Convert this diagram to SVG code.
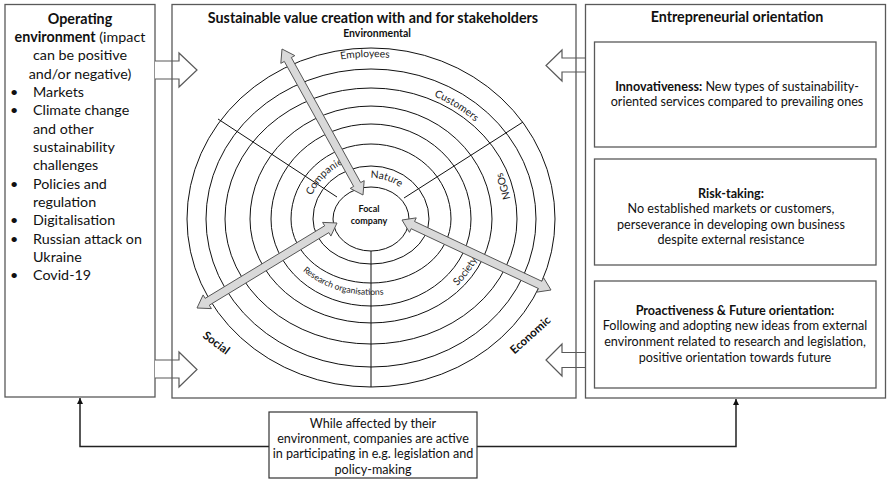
<svg xmlns="http://www.w3.org/2000/svg" width="890" height="490" viewBox="0 0 890 490">
<style>
text{font-family:Lato,"Liberation Sans",sans-serif;fill:#111}
.box{fill:#fff;stroke:#595959;stroke-width:1.3}
.frame{fill:none;stroke:#595959;stroke-width:1.3}
.blk{fill:#fff;stroke:#595959;stroke-width:1.2}
.ring{fill:none;stroke:#111;stroke-width:1}
.spoke{stroke:#111;stroke-width:1}
.garrow{fill:#d9d9d9;stroke:#555;stroke-width:1}
.conn{fill:none;stroke:#222;stroke-width:1.5}
.t13{font-size:12.6px}
.t14{font-size:14.3px}
.b{font-weight:bold}
.lbl{font-size:10.3px;fill:#222}
.mid{text-anchor:middle}
</style>
<defs>
<marker id="ah" markerUnits="userSpaceOnUse" markerWidth="7" markerHeight="7" refX="6" refY="3" orient="auto"><path d="M0,0 L6,3 L0,6 z" fill="#111"/></marker>
<path id="pEmp" d="M278.8,81.6 A174,162 0 0 1 452.7,76.0"/>
<path id="pCus" d="M384.1,84.5 A150,135 0 0 1 507.0,161.9"/>
<path id="pNgo" d="M507.2,251.9 A143,127 0 0 0 470.1,129.2"/>
<path id="pSoc" d="M425.5,307.3 A116,100 0 0 0 486.9,222.5"/>
<path id="pRes" d="M283.6,245.0 A93,76 0 0 0 414.7,286.1"/>
<path id="pCom" d="M307.2,224.3 A64,61 0 0 1 376.6,158.2"/>
<path id="pNat" d="M351.6,181.8 A46,41 0 0 1 412.7,201.7"/>
</defs>

<g id="operating-environment">
<rect class="box" x="5" y="4.5" width="150" height="392.5"/>
<text class="t14 mid" x="80" y="23.5"><tspan class="b">Operating</tspan></text>
<text class="t14 mid" x="80" y="42"><tspan class="b">environment</tspan> (impact</text>
<text class="t14 mid" x="80" y="60">can be positive</text>
<text class="t14 mid" x="80" y="78.5">and/or negative)</text>
<g class="t14">
<text x="10" y="97">•</text><text x="33" y="97">Markets</text>
<text x="10" y="115">•</text><text x="33" y="115">Climate change</text>
<text x="33" y="133.5">and other</text>
<text x="33" y="152">sustainability</text>
<text x="33" y="170">challenges</text>
<text x="10" y="188.5">•</text><text x="33" y="188.5">Policies and</text>
<text x="33" y="207">regulation</text>
<text x="10" y="225">•</text><text x="33" y="225">Digitalisation</text>
<text x="10" y="243.5">•</text><text x="33" y="243.5">Russian attack on</text>
<text x="33" y="262">Ukraine</text>
<text x="10" y="280">•</text><text x="33" y="280">Covid-19</text>
</g>
</g>

<g id="block-arrows">
<path class="blk" d="M155,61 H179 V53 L197,70 L179,87 V79 H155"/>
<path class="blk" d="M155,360 H179 V352 L197,369.5 L179,387 V378 H155"/>
<path class="blk" d="M585.5,58 H562 V50 L546,65.5 L562,81 V72 H585.5"/>
<path class="blk" d="M585.5,352.5 H562 V344 L546,360 L562,376 V367.5 H585.5"/>
</g>

<g id="value-creation">
<rect class="frame" x="172" y="4.5" width="404" height="393.5"/>
<text class="t14 b mid" x="373" y="23">Sustainable value creation with and for stakeholders</text>
<text class="b mid" style="font-size:10.5px" x="377" y="37">Environmental</text>
<path class="ring" d="M187,219 A184,171 0 0 1 555,219 A184,168 0 0 1 187,219Z"/>
<path class="ring" d="M206,219 A165,150 0 0 1 536,219 A165,148 0 0 1 206,219Z"/>
<path class="ring" d="M225,219 A146,131 0 0 1 517,219 A146,125 0 0 1 225,219Z"/>
<path class="ring" d="M250,219 A121,113 0 0 1 492,219 A121,104 0 0 1 250,219Z"/>
<path class="ring" d="M271,219 A100,95 0 0 1 471,219 A100,87 0 0 1 271,219Z"/>
<path class="ring" d="M291,219 A80,75 0 0 1 451,219 A80,64 0 0 1 291,219Z"/>
<path class="ring" d="M313,219 A58,53 0 0 1 429,219 A58,45 0 0 1 313,219Z"/>
<line class="spoke" x1="337" y1="197" x2="218" y2="119"/>
<line class="spoke" x1="404" y1="198" x2="523" y2="122"/>
<line class="spoke" x1="371" y1="251" x2="371" y2="387"/>
<text class="lbl"><textPath href="#pEmp" startOffset="50%" text-anchor="middle">Employees</textPath></text>
<text class="lbl"><textPath href="#pCus" startOffset="50%" text-anchor="middle">Customers</textPath></text>
<text class="lbl"><textPath href="#pNgo" startOffset="50%" text-anchor="middle">NGOs</textPath></text>
<text class="lbl"><textPath href="#pSoc" startOffset="50%" text-anchor="middle">Society</textPath></text>
<text class="lbl" style="font-size:8.6px"><textPath href="#pRes" startOffset="50%" text-anchor="middle">Research organisations</textPath></text>
<text class="lbl"><textPath href="#pCom" startOffset="50%" text-anchor="middle">Companies</textPath></text>
<text class="lbl"><textPath href="#pNat" startOffset="50%" text-anchor="middle">Nature</textPath></text>
<text class="b mid" style="font-size:11.5px" transform="translate(214,346) rotate(37)">Social</text>
<text class="b mid" style="font-size:11.5px" transform="translate(533,338) rotate(-42)">Economic</text>
</g>

<g id="focal-company">
<ellipse class="ring" cx="371" cy="219" rx="38" ry="32" fill="#fff"/>
<text class="b mid" style="font-size:9px" x="369" y="211.5">Focal</text>
<text class="b mid" style="font-size:9px" x="369" y="224">company</text>
</g>

<g id="interaction-arrows">
<polygon class="garrow" points="363,195 364.18,180.63 360.68,182.57 291.32,57.55 294.82,55.61 282,49 280.82,63.37 284.32,61.43 353.68,186.45 350.18,188.39"/>
<polygon class="garrow" points="337,223 322.59,222.39 324.66,225.81 205.18,298.35 203.11,294.93 197,308 211.41,308.61 209.34,305.19 328.82,232.65 330.89,236.07"/>
<polygon class="garrow" points="402,220 409.46,232.34 411.16,228.72 538.44,288.52 536.74,292.14 551,290 543.54,277.66 541.84,281.28 414.56,221.48 416.26,217.86"/>
</g>

<g id="entrepreneurial-orientation">
<rect class="box" x="585.5" y="4.5" width="300" height="393.5"/>
<text class="t14 b mid" x="737" y="22">Entrepreneurial orientation</text>
</g>

<g id="innovativeness">
<rect class="box" x="594.5" y="42" width="281.5" height="105"/>
<text class="t13 mid" x="737" y="91"><tspan class="b">Innovativeness:</tspan> New types of sustainability-</text>
<text class="t13 mid" x="737" y="106">oriented services compared to prevailing ones</text>
</g>

<g id="risk-taking">
<rect class="box" x="594.5" y="159" width="281.5" height="106"/>
<text class="t13 b mid" x="731" y="197.5">Risk-taking:</text>
<text class="t13 mid" x="731" y="213">No established markets or customers,</text>
<text class="t13 mid" x="731" y="228.5">perseverance in developing own business</text>
<text class="t13 mid" x="731" y="244">despite external resistance</text>
</g>

<g id="proactiveness">
<rect class="box" x="594.5" y="281" width="281.5" height="107"/>
<text class="t13 b mid" x="735" y="314.5">Proactiveness &amp; Future orientation:</text>
<text class="t13 mid" x="735" y="330">Following and adopting new ideas from external</text>
<text class="t13 mid" x="735" y="346">environment related to research and legislation,</text>
<text class="t13 mid" x="735" y="362">positive orientation towards future</text>
</g>

<g id="connectors">
<path class="conn" d="M269,446.5 H80 V398" marker-end="url(#ah)"/>
<path class="conn" d="M477,446.5 H736 V399" marker-end="url(#ah)"/>
</g>

<g id="participation-note">
<rect x="269" y="412" width="208" height="66" fill="#fff" stroke="#333" stroke-width="1.2"/>
<text class="t13 mid" x="373" y="427.5">While affected by their</text>
<text class="t13 mid" x="373" y="443">environment, companies are active</text>
<text class="t13 mid" x="373" y="458">in participating in e.g. legislation and</text>
<text class="t13 mid" x="373" y="473.5">policy-making</text>
</g>
</svg>
